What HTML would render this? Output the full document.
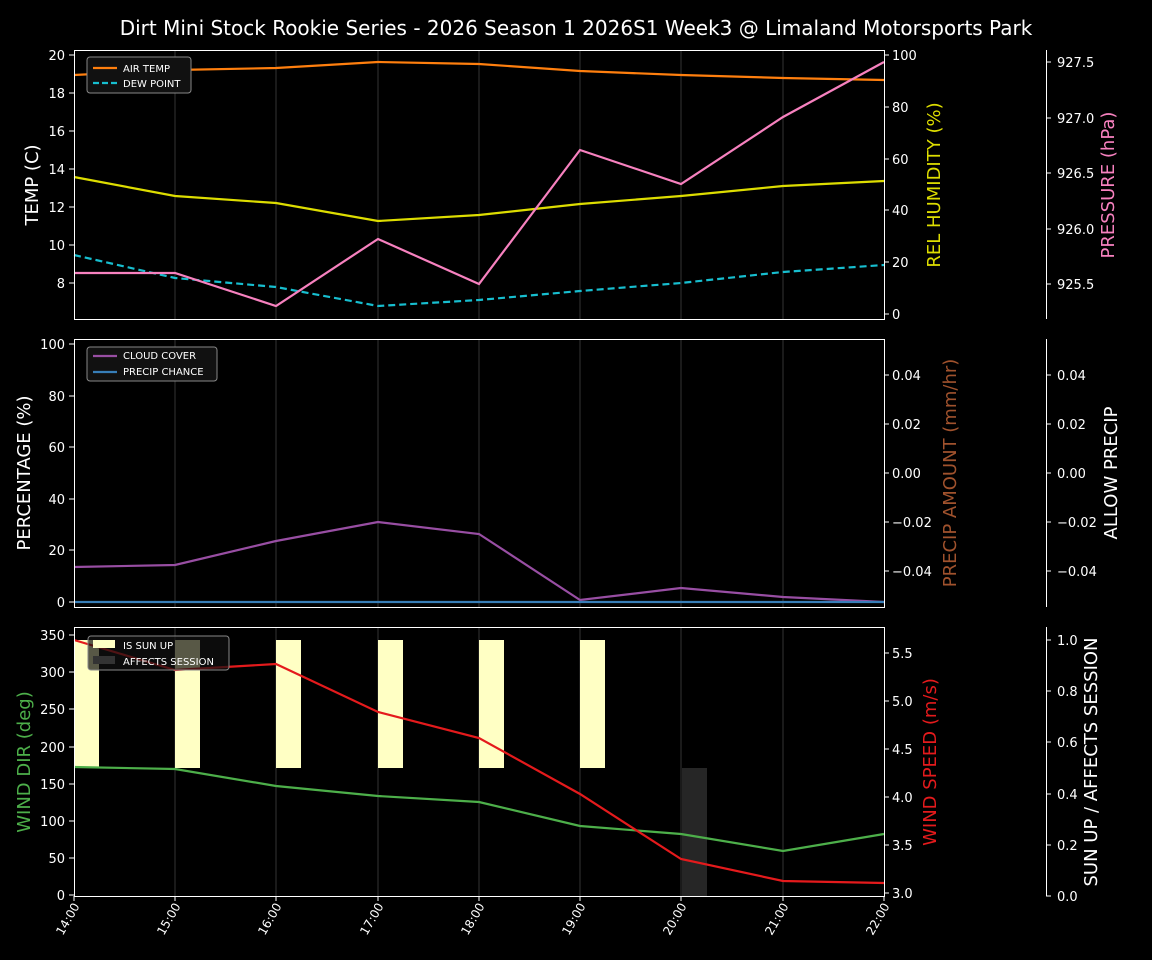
<!DOCTYPE html>
<html><head><style>body{margin:0;background:#000}svg{display:block}text{font-family:"DejaVu Sans","Liberation Sans",sans-serif;fill:#fff}</style></head><body>
<svg width="1152" height="960" xmlns="http://www.w3.org/2000/svg">
<rect width="1152" height="960" fill="#000"/>
<text x="576" y="35" font-size="20" text-anchor="middle">Dirt Mini Stock Rookie Series - 2026 Season 1 2026S1 Week3 @ Limaland Motorsports Park</text>
<g stroke="#222" stroke-width="1.5">
<line x1="175" y1="50" x2="175" y2="319"/><line x1="276" y1="50" x2="276" y2="319"/><line x1="378" y1="50" x2="378" y2="319"/><line x1="479" y1="50" x2="479" y2="319"/><line x1="580" y1="50" x2="580" y2="319"/><line x1="681" y1="50" x2="681" y2="319"/><line x1="783" y1="50" x2="783" y2="319"/>
<line x1="175" y1="339" x2="175" y2="607"/><line x1="276" y1="339" x2="276" y2="607"/><line x1="378" y1="339" x2="378" y2="607"/><line x1="479" y1="339" x2="479" y2="607"/><line x1="580" y1="339" x2="580" y2="607"/><line x1="681" y1="339" x2="681" y2="607"/><line x1="783" y1="339" x2="783" y2="607"/>
<line x1="175" y1="627" x2="175" y2="896"/><line x1="276" y1="627" x2="276" y2="896"/><line x1="378" y1="627" x2="378" y2="896"/><line x1="479" y1="627" x2="479" y2="896"/><line x1="580" y1="627" x2="580" y2="896"/><line x1="681" y1="627" x2="681" y2="896"/><line x1="783" y1="627" x2="783" y2="896"/>
</g>
<!-- panel 1 -->
<polyline fill="none" stroke="#ff7f0e" stroke-width="2.2" points="74,75 175,70 276,68 378,62 479,64 580,71 681,75 783,78 884,80"/>
<polyline fill="none" stroke="#17becf" stroke-width="2.2" stroke-dasharray="7,4" points="74,255 175,278 276,287 378,306 479,300 580,291 681,283 783,272 884,265"/>
<polyline fill="none" stroke="#dddd00" stroke-width="2.2" points="74,177 175,196 276,203 378,221 479,215 580,204 681,196 783,186 884,181"/>
<polyline fill="none" stroke="#f781bf" stroke-width="2.2" points="74,273 175,273 276,306 378,239 479,284 580,150 681,184 783,117 884,62"/>
<rect x="74.5" y="50.5" width="810" height="269" fill="none" stroke="#fff"/>
<g font-size="13" text-anchor="end">
<text x="65" y="60">20</text><text x="65" y="98">18</text><text x="65" y="136">16</text><text x="65" y="174">14</text><text x="65" y="212">12</text><text x="65" y="250">10</text><text x="65" y="288">8</text></g>
<g stroke="#fff"><line x1="69" y1="55" x2="74" y2="55"/><line x1="69" y1="93" x2="74" y2="93"/><line x1="69" y1="131" x2="74" y2="131"/><line x1="69" y1="169" x2="74" y2="169"/><line x1="69" y1="207" x2="74" y2="207"/><line x1="69" y1="245" x2="74" y2="245"/><line x1="69" y1="283" x2="74" y2="283"/>
<line x1="884" y1="55" x2="889" y2="55"/><line x1="884" y1="107" x2="889" y2="107"/><line x1="884" y1="159" x2="889" y2="159"/><line x1="884" y1="210" x2="889" y2="210"/><line x1="884" y1="262" x2="889" y2="262"/><line x1="884" y1="314" x2="889" y2="314"/>
<line x1="1046.5" y1="50" x2="1046.5" y2="319"/><line x1="1046" y1="62" x2="1051" y2="62"/><line x1="1046" y1="118" x2="1051" y2="118"/><line x1="1046" y1="173" x2="1051" y2="173"/><line x1="1046" y1="229" x2="1051" y2="229"/><line x1="1046" y1="284" x2="1051" y2="284"/></g>
<g font-size="13"><text x="892" y="60">100</text><text x="892" y="112">80</text><text x="892" y="164">60</text><text x="892" y="215">40</text><text x="892" y="267">20</text><text x="892" y="319">0</text>
<text x="1057" y="67">927.5</text><text x="1057" y="123">927.0</text><text x="1057" y="178">926.5</text><text x="1057" y="234">926.0</text><text x="1057" y="289">925.5</text></g>
<text transform="translate(38,185) rotate(-90)" font-size="18" text-anchor="middle">TEMP (C)</text>
<text transform="translate(940,185) rotate(-90)" font-size="18" text-anchor="middle" style="fill:#dddd00">REL HUMIDITY (%)</text>
<text transform="translate(1114,185) rotate(-90)" font-size="18" text-anchor="middle" style="fill:#f781bf">PRESSURE (hPa)</text>
<rect x="87" y="57" width="104" height="36" rx="3" fill="#111" stroke="#888"/>
<line x1="93" y1="68" x2="117" y2="68" stroke="#ff7f0e" stroke-width="2.2"/><text x="123" y="72" font-size="10">AIR TEMP</text>
<line x1="93" y1="83" x2="117" y2="83" stroke="#17becf" stroke-width="2.2" stroke-dasharray="6,3"/><text x="123" y="87" font-size="10">DEW POINT</text>
<!-- panel 2 -->
<polyline fill="none" stroke="#984ea3" stroke-width="2.2" points="74,567 175,565 276,541 378,522 479,534 580,600 681,588 783,597 884,602"/>
<line x1="74" y1="602" x2="884" y2="602" stroke="#377eb8" stroke-width="2.2"/>
<rect x="74.5" y="339.5" width="810" height="268" fill="none" stroke="#fff"/>
<g font-size="13" text-anchor="end"><text x="65" y="349">100</text><text x="65" y="401">80</text><text x="65" y="452">60</text><text x="65" y="504">40</text><text x="65" y="555">20</text><text x="65" y="607">0</text></g>
<g stroke="#fff"><line x1="69" y1="344" x2="74" y2="344"/><line x1="69" y1="396" x2="74" y2="396"/><line x1="69" y1="447" x2="74" y2="447"/><line x1="69" y1="499" x2="74" y2="499"/><line x1="69" y1="550" x2="74" y2="550"/><line x1="69" y1="602" x2="74" y2="602"/>
<line x1="884" y1="375" x2="889" y2="375"/><line x1="884" y1="424" x2="889" y2="424"/><line x1="884" y1="473" x2="889" y2="473"/><line x1="884" y1="522" x2="889" y2="522"/><line x1="884" y1="571" x2="889" y2="571"/>
<line x1="1046.5" y1="339" x2="1046.5" y2="607"/><line x1="1046" y1="375" x2="1051" y2="375"/><line x1="1046" y1="424" x2="1051" y2="424"/><line x1="1046" y1="473" x2="1051" y2="473"/><line x1="1046" y1="522" x2="1051" y2="522"/><line x1="1046" y1="571" x2="1051" y2="571"/></g>
<g font-size="13"><text x="892" y="380">0.04</text><text x="892" y="429">0.02</text><text x="892" y="478">0.00</text><text x="892" y="527">−0.02</text><text x="892" y="576">−0.04</text>
<text x="1057" y="380">0.04</text><text x="1057" y="429">0.02</text><text x="1057" y="478">0.00</text><text x="1057" y="527">−0.02</text><text x="1057" y="576">−0.04</text></g>
<text transform="translate(30,473) rotate(-90)" font-size="18" text-anchor="middle">PERCENTAGE (%)</text>
<text transform="translate(956,473) rotate(-90)" font-size="18" text-anchor="middle" style="fill:#a0522d">PRECIP AMOUNT (mm/hr)</text>
<text transform="translate(1117,473) rotate(-90)" font-size="18" text-anchor="middle">ALLOW PRECIP</text>
<rect x="87" y="347" width="130" height="34" rx="3" fill="#111" stroke="#888"/>
<line x1="93" y1="356" x2="117" y2="356" stroke="#984ea3" stroke-width="2.2"/><text x="123" y="359" font-size="10">CLOUD COVER</text>
<line x1="93" y1="372" x2="117" y2="372" stroke="#377eb8" stroke-width="2.2"/><text x="123" y="375" font-size="10">PRECIP CHANCE</text>
<!-- panel 3 -->
<g fill="#ffffc4"><rect x="74" y="640" width="25" height="128"/><rect x="175" y="640" width="25" height="128"/><rect x="276" y="640" width="25" height="128"/><rect x="378" y="640" width="25" height="128"/><rect x="479" y="640" width="25" height="128"/><rect x="580" y="640" width="25" height="128"/></g>
<rect x="682" y="768" width="25" height="128" fill="#262626"/>
<polyline fill="none" stroke="#4daf4a" stroke-width="2.2" points="74,767 175,769 276,786 378,796 479,802 580,826 681,834 783,851 884,834"/>
<polyline fill="none" stroke="#e41a1c" stroke-width="2.2" points="74,640 175,670 276,664 378,712 479,738 580,794 681,859 783,881 884,883"/>
<rect x="74.5" y="627.5" width="810" height="269" fill="none" stroke="#fff"/>
<g font-size="13" text-anchor="end"><text x="65" y="640">350</text><text x="65" y="677">300</text><text x="65" y="714">250</text><text x="65" y="752">200</text><text x="65" y="789">150</text><text x="65" y="826">100</text><text x="65" y="863">50</text><text x="65" y="900">0</text></g>
<g stroke="#fff"><line x1="69" y1="635" x2="74" y2="635"/><line x1="69" y1="672" x2="74" y2="672"/><line x1="69" y1="709" x2="74" y2="709"/><line x1="69" y1="747" x2="74" y2="747"/><line x1="69" y1="784" x2="74" y2="784"/><line x1="69" y1="821" x2="74" y2="821"/><line x1="69" y1="858" x2="74" y2="858"/><line x1="69" y1="895" x2="74" y2="895"/>
<line x1="884" y1="653" x2="889" y2="653"/><line x1="884" y1="701" x2="889" y2="701"/><line x1="884" y1="749" x2="889" y2="749"/><line x1="884" y1="797" x2="889" y2="797"/><line x1="884" y1="845" x2="889" y2="845"/><line x1="884" y1="893" x2="889" y2="893"/>
<line x1="1046.5" y1="627" x2="1046.5" y2="896"/><line x1="1046" y1="640" x2="1051" y2="640"/><line x1="1046" y1="691" x2="1051" y2="691"/><line x1="1046" y1="742" x2="1051" y2="742"/><line x1="1046" y1="794" x2="1051" y2="794"/><line x1="1046" y1="845" x2="1051" y2="845"/><line x1="1046" y1="896" x2="1051" y2="896"/></g>
<g font-size="13"><text x="892" y="658">5.5</text><text x="892" y="706">5.0</text><text x="892" y="754">4.5</text><text x="892" y="802">4.0</text><text x="892" y="850">3.5</text><text x="892" y="898">3.0</text>
<text x="1057" y="645">1.0</text><text x="1057" y="696">0.8</text><text x="1057" y="747">0.6</text><text x="1057" y="799">0.4</text><text x="1057" y="850">0.2</text><text x="1057" y="901">0.0</text></g>
<text transform="translate(30,762) rotate(-90)" font-size="18" text-anchor="middle" style="fill:#4daf4a">WIND DIR (deg)</text>
<text transform="translate(936,762) rotate(-90)" font-size="18" text-anchor="middle" style="fill:#e41a1c">WIND SPEED (m/s)</text>
<text transform="translate(1097,762) rotate(-90)" font-size="18" text-anchor="middle">SUN UP / AFFECTS SESSION</text>
<rect x="88" y="636" width="141" height="34" rx="3" fill="#111" fill-opacity="0.7" stroke="#888"/>
<rect x="93" y="640" width="22" height="8" fill="#ffffc4"/><text x="123" y="649" font-size="10">IS SUN UP</text>
<rect x="93" y="656" width="22" height="8" fill="#333"/><text x="123" y="665" font-size="10">AFFECTS SESSION</text>
<g stroke="#fff"><line x1="74" y1="896" x2="74" y2="901"/><line x1="175" y1="896" x2="175" y2="901"/><line x1="276" y1="896" x2="276" y2="901"/><line x1="378" y1="896" x2="378" y2="901"/><line x1="479" y1="896" x2="479" y2="901"/><line x1="580" y1="896" x2="580" y2="901"/><line x1="681" y1="896" x2="681" y2="901"/><line x1="783" y1="896" x2="783" y2="901"/><line x1="884" y1="896" x2="884" y2="901"/></g>
<g font-size="12" text-anchor="end">
<text transform="translate(80,906) rotate(-60)">14:00</text><text transform="translate(181,906) rotate(-60)">15:00</text><text transform="translate(282,906) rotate(-60)">16:00</text><text transform="translate(384,906) rotate(-60)">17:00</text><text transform="translate(485,906) rotate(-60)">18:00</text><text transform="translate(586,906) rotate(-60)">19:00</text><text transform="translate(687,906) rotate(-60)">20:00</text><text transform="translate(789,906) rotate(-60)">21:00</text><text transform="translate(890,906) rotate(-60)">22:00</text></g>
</svg>
</body></html>
